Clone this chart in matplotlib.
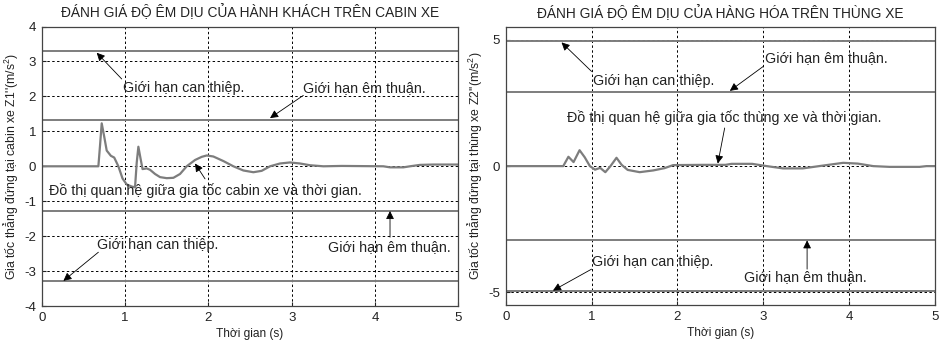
import numpy as np
import matplotlib
matplotlib.use('Agg')
import matplotlib.pyplot as plt

plt.rcParams['font.family'] = ['Liberation Sans', 'DejaVu Sans']
plt.rcParams['mathtext.fontset'] = 'custom'
plt.rcParams['mathtext.rm'] = 'Liberation Sans'
plt.rcParams['mathtext.it'] = 'Liberation Sans'
plt.rcParams['axes.unicode_minus'] = False

# cabin acceleration vs time (left)
t_cab = [0, 0.68, 0.70, 0.72, 0.75, 0.78, 0.83, 0.87, 0.92, 0.97, 1.02, 1.08, 1.12, 1.14, 1.16, 1.18,
         1.21, 1.26, 1.30, 1.36, 1.42, 1.50, 1.58, 1.66, 1.74, 1.84, 1.92, 1.98, 2.06, 2.18, 2.30,
         2.42, 2.54, 2.64, 2.74, 2.86, 2.98, 3.10, 3.22, 3.38, 3.60, 4.10, 4.18, 4.34, 4.42, 4.54,
         4.70, 4.90, 5.0]
a_cab = [0, 0, 0.6, 1.23, 0.85, 0.45, 0.3, 0.25, 0.0, -0.35, -0.52, -0.58, -0.6, 0.1, 0.56, 0.3,
         -0.08, -0.06, -0.1, -0.22, -0.31, -0.34, -0.33, -0.22, 0, 0.18, 0.27, 0.31, 0.28, 0.15, 0,
         -0.12, -0.17, -0.13, 0, 0.08, 0.11, 0.08, 0.03, 0, 0.01, 0, -0.03, -0.03, 0.0, 0.04,
         0.05, 0.05, 0.05]

# cargo acceleration vs time (right)
t_cg = [0, 0.67, 0.73, 0.79, 0.86, 0.92, 0.98, 1.04, 1.10, 1.16, 1.22, 1.29, 1.35, 1.42, 1.56,
        1.72, 1.85, 1.95, 2.3, 2.56, 2.63, 2.87, 3.04, 3.23, 3.46, 3.65, 3.93, 4.10, 4.28, 4.47,
        4.82, 4.9, 5.0]
a_cg = [0, 0, 0.37, 0.16, 0.63, 0.35, 0, -0.14, -0.07, -0.24, 0.0, 0.33, 0.05, -0.15, -0.24,
        -0.17, -0.08, 0.04, 0.05, 0.05, 0.09, 0.09, 0, -0.09, -0.09, 0, 0.13, 0.1, 0, -0.03,
        -0.03, 0, 0]

lim_cab = {'can': (3.3, -3.28), 'em': (1.33, -1.28)}
lim_cg = {'can': (4.95, -4.93), 'em': (2.95, -2.94)}

titles = ['ĐÁNH GIÁ ĐỘ ÊM DỊU CỦA HÀNH KHÁCH TRÊN CABIN XE',
          'ĐÁNH GIÁ ĐỘ ÊM DỊU CỦA HÀNG HÓA TRÊN THÙNG XE']
ylabels = ["Gia tốc thẳng đứng tại cabin xe Z1''(m/s$^2$)",
           "Gia tốc thẳng đứng tại thùng xe Z2''(m/s$^2$)"]

line_c = '#7d7d7d'
txt_c = '#222222'

fig = plt.figure(figsize=(9.46, 3.45), dpi=100)
ax1 = fig.add_axes([0.0441, 0.113, 0.4404, 0.810])
ax2 = fig.add_axes([0.5346, 0.116, 0.4538, 0.805])


def style(ax, ylim, yticks, title, ylabel):
    ax.set_xlim(0, 5)
    ax.set_ylim(*ylim)
    ax.set_xticks(range(6))
    ax.set_yticks(yticks)
    ax.grid(True, color='k', linestyle=(0, (2.5, 2.5)), linewidth=0.7)
    ax.tick_params(direction='in', length=3, labelsize=9.5, colors=txt_c, pad=4)
    for s in ax.spines.values():
        s.set_color('#444444')
        s.set_linewidth(0.9)
    ax.set_title(title, fontsize=9.9, color=txt_c, pad=7)
    ax.set_ylabel(ylabel, fontsize=8.8, color=txt_c, labelpad=3)
    ax.set_xlabel('Thời gian (s)', fontsize=8.6, color=txt_c, labelpad=3)


def arrow(ax, tail, head):
    ax.annotate('', xy=head, xytext=tail,
                arrowprops=dict(arrowstyle='-|>', color='k', lw=0.6,
                                mutation_scale=12, shrinkA=0, shrinkB=0))


# left panel
style(ax1, (-4, 4), range(-4, 5), titles[0], ylabels[0])
for v in lim_cab['can'] + lim_cab['em']:
    ax1.axhline(v, color=line_c, lw=1.4)
ax1.plot(t_cab, a_cab, color=line_c, lw=1.6)
fs = 10.3
ax1.text(0.98, 2.25, 'Giới hạn can thiệp.', fontsize=fs, va='center', color=txt_c)
arrow(ax1, (0.96, 2.5), (0.66, 3.25))
ax1.text(3.14, 2.25, 'Giới hạn êm thuận.', fontsize=fs, va='center', color=txt_c)
arrow(ax1, (3.14, 2.03), (2.74, 1.38))
ax1.text(0.09, -0.70, 'Đồ thị quan hệ giữa gia tốc cabin xe và thời gian.', fontsize=fs,
         va='center', color=txt_c)
arrow(ax1, (1.96, -0.36), (1.84, 0.08))
ax1.text(3.44, -2.32, 'Giới hạn êm thuận.', fontsize=fs, va='center', color=txt_c)
arrow(ax1, (4.18, -2.03), (4.18, -1.28))
ax1.text(0.66, -2.24, 'Giới hạn can thiệp.', fontsize=fs, va='center', color=txt_c)
arrow(ax1, (0.68, -2.46), (0.26, -3.28))

# right panel
style(ax2, (-5.5, 5.5), [-5, 0, 5], titles[1], ylabels[1])
for v in lim_cg['can'] + lim_cg['em']:
    ax2.axhline(v, color=line_c, lw=1.4)
ax2.plot(t_cg, a_cg, color=line_c, lw=1.6)
ax2.text(1.02, 3.39, 'Giới hạn can thiệp.', fontsize=fs, va='center', color=txt_c)
arrow(ax2, (1.0, 3.75), (0.65, 4.9))
ax2.text(3.02, 4.28, 'Giới hạn êm thuận.', fontsize=fs, va='center', color=txt_c)
arrow(ax2, (3.0, 3.95), (2.61, 2.98))
ax2.text(2.54, 1.91, 'Đồ thị quan hệ giữa gia tốc thùng xe và thời gian.', fontsize=fs,
         va='center', ha='center', color=txt_c)
arrow(ax2, (2.55, 1.51), (2.47, 0.1))
ax2.text(1.0, -3.78, 'Giới hạn can thiệp.', fontsize=fs, va='center', color=txt_c)
arrow(ax2, (1.0, -4.08), (0.55, -4.93))
ax2.text(2.77, -4.41, 'Giới hạn êm thuận.', fontsize=fs, va='center', color=txt_c)
arrow(ax2, (3.51, -4.08), (3.51, -2.94))

fig.savefig('out.png', dpi=100, facecolor='white')
